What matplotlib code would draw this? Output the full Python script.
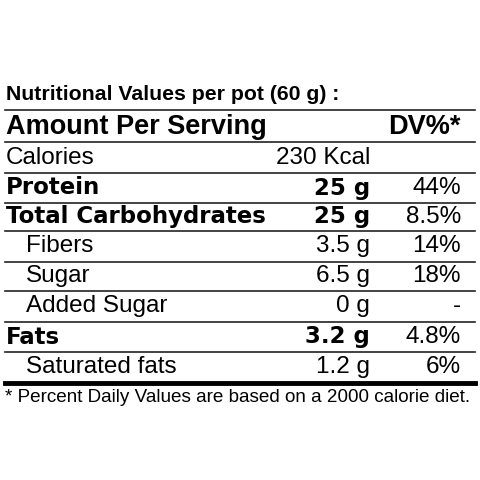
import matplotlib
matplotlib.use("Agg")
import matplotlib.pyplot as plt

labels = ["Calories", "Protein", "Total Carbohydrates", "Fibers", "Sugar", "Added Sugar", "Fats", "Saturated fats"]
amounts = ["230 Kcal", "25 g", "25 g", "3.5 g", "6.5 g", "0 g", "3.2 g", "1.2 g"]
dv = ["", "44%", "8.5%", "14%", "18%", "-", "4.8%", "6%"]
bold = [False, True, True, False, False, False, True, False]
indent = [False, False, False, True, True, True, False, True]

fig = plt.figure(figsize=(4.8, 4.8), dpi=100)
ax = fig.add_axes([0, 0, 1, 1])
ax.set_xlim(0, 480); ax.set_ylim(480, 0); ax.axis("off")
F = "Liberation Sans"

ax.text(6, 95, "Nutritional Values per pot (60 g) :", family=F, weight="bold", fontsize=15.3, va="center")
ax.text(6, 127, "Amount Per Serving", family=F, weight="bold", fontsize=19.5, va="center")
ax.text(461, 127, "DV%*", family=F, weight="bold", fontsize=19.5, va="center", ha="right")
row_centers = [158, 188, 217, 246, 276, 306, 337, 367]
for i, lab in enumerate(labels):
    y = row_centers[i]
    fam = ["Arial Black", "DejaVu Sans"] if bold[i] else F
    fs = 16.5 if bold[i] else 17.5
    wt = "bold" if bold[i] else "normal"
    ax.text(26 if indent[i] else 6, y, lab, family=fam, weight=wt, fontsize=fs, va="center")
    ax.text(370, y, amounts[i], family=fam, weight=wt, fontsize=fs, va="center", ha="right")
    ax.text(461, y, dv[i], family=F, fontsize=17.5, va="center", ha="right")
for y in [110, 142, 173, 203, 231, 262, 291, 322, 352]:
    ax.plot([5, 475], [y, y], color="#222", lw=1.2)
ax.plot([5, 475], [383, 383], color="black", lw=3.5)
ax.text(5, 397, "* Percent Daily Values are based on a 2000 calorie diet.", family=F, fontsize=13.6, va="center")
fig.savefig("out.png", dpi=100, facecolor="white")
